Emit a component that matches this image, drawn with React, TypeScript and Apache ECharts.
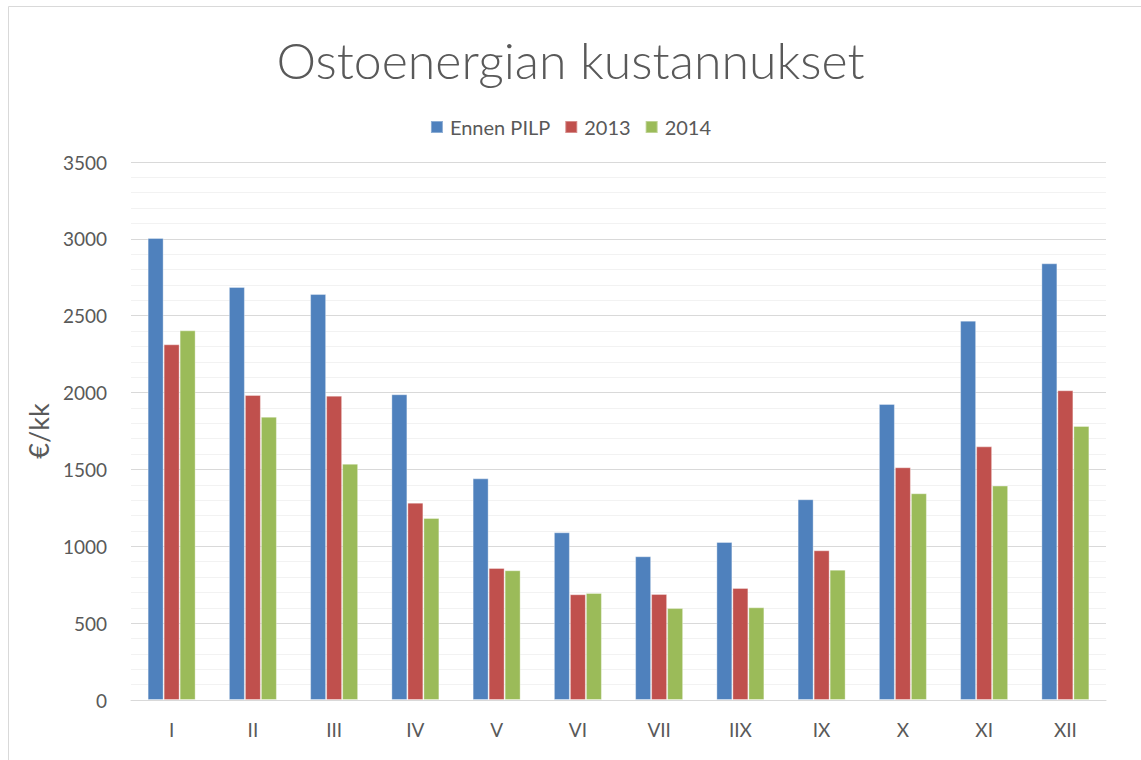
import React, { useEffect, useRef } from "react";
import * as echarts from "echarts";

const categories = ["I", "II", "III", "IV", "V", "VI", "VII", "IIX", "IX", "X", "XI", "XII"];
const seriesNames = ["Ennen PILP", "2013", "2014"];
const ennenPilp = [3006, 2687, 2641, 1989, 1442, 1091, 935, 1028, 1306, 1926, 2468, 2841];
const y2013 = [2314, 1984, 1980, 1284, 859, 688, 690, 729, 974, 1514, 1650, 2015];
const y2014 = [2405, 1843, 1537, 1184, 844, 696, 598, 603, 848, 1345, 1395, 1783];
const colors = ["#4F81BD", "#C0504D", "#9BBB59"];

const FONT = "Lato, 'Open Sans', sans-serif";

export default function App() {
  const ref = useRef<HTMLDivElement>(null);
  useEffect(() => {
    if (!ref.current) return;
    const chart = echarts.init(ref.current, null, { renderer: "svg" });
    const data = [ennenPilp, y2013, y2014];
    chart.setOption({
      animation: false,
      backgroundColor: "#ffffff",
      textStyle: { fontFamily: FONT },
      title: {
        text: "Ostoenergian kustannukset",
        left: "center",
        top: 30,
        textStyle: { fontSize: 50, fontWeight: 300, color: "#595959", fontFamily: FONT },
      },
      legend: {
        data: seriesNames,
        top: 112,
        left: "center",
        itemWidth: 12,
        itemHeight: 12,
        itemGap: 14,
        icon: "rect",
        textStyle: { fontSize: 20, color: "#595959", fontFamily: FONT, padding: [0, 0, 0, 2] },
      },
      graphic: [
        {
          type: "rect",
          shape: { x: 8.5, y: 6.5, width: 1200, height: 800 },
          style: { fill: "none", stroke: "#d9d9d9", lineWidth: 1 },
          silent: true,
        },
      ],
      grid: { left: 131, right: 35, top: 162, bottom: 60, containLabel: false },
      xAxis: {
        type: "category",
        data: categories,
        axisLine: { lineStyle: { color: "#d9d9d9", width: 1 } },
        axisTick: { show: false },
        axisLabel: { fontSize: 19, color: "#595959", margin: 20, fontFamily: FONT },
      },
      yAxis: {
        type: "value",
        min: 0,
        max: 3500,
        interval: 500,
        name: "€/kk",
        nameLocation: "middle",
        nameGap: 78,
        nameTextStyle: { fontSize: 27, color: "#595959", fontFamily: FONT },
        axisLine: { show: false },
        axisTick: { show: false },
        axisLabel: {
          fontSize: 19,
          color: "#595959",
          margin: 24,
          fontFamily: FONT,
          formatter: (v: number) => String(v),
        },
        splitLine: { lineStyle: { color: "#d9d9d9", width: 1 } },
        minorTick: { show: false, splitNumber: 5 },
        minorSplitLine: { show: true, lineStyle: { color: "#f2f2f2", width: 1 } },
      },
      series: seriesNames.map((name, i) => ({
        name,
        type: "bar",
        data: data[i],
        barWidth: 16,
        barGap: "0%",
        itemStyle: { color: colors[i], borderColor: "rgba(255,255,255,0.35)", borderWidth: 1 },
      })),
    });
    return () => chart.dispose();
  }, []);
  return (
    <div
      ref={ref}
      style={{ position: "fixed", left: 0, top: 0, width: 1141, height: 760 }}
    />
  );
}
